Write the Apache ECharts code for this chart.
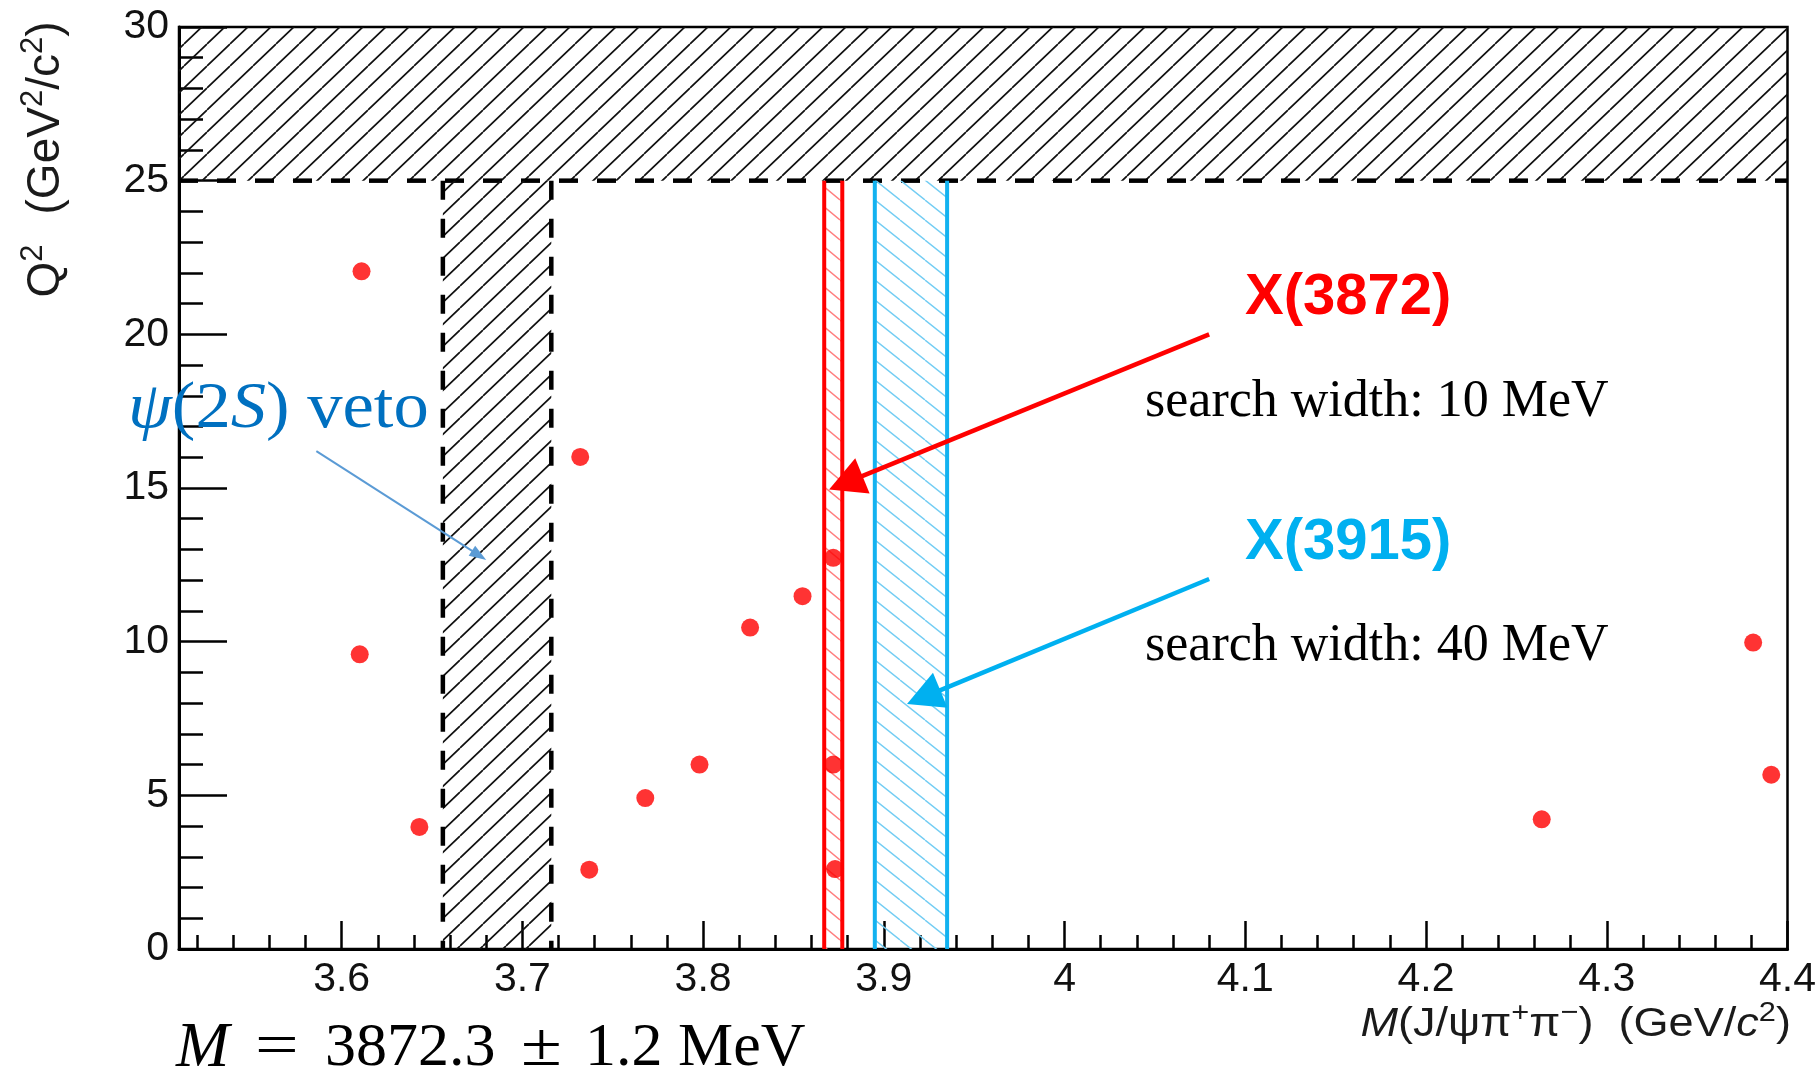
<!DOCTYPE html>
<html>
<head>
<meta charset="utf-8">
<script src="https://cdn.jsdelivr.net/npm/echarts@6/dist/echarts.min.js"></script>
<style>
  html, body { margin: 0; padding: 0; background: #ffffff; }
  #main { width: 1819px; height: 1076px; }
</style>
</head>
<body>
<div id="main"></div>
<script>
// Candidate events: invariant mass M(J/psi pi+ pi-) [GeV/c^2] and Q^2 [GeV^2/c^2]
const massValues = [3.611, 3.610, 3.643, 3.732, 3.737, 3.768, 3.798, 3.826, 3.855, 3.872, 3.872, 3.873, 4.264, 4.381, 4.391];
const q2Values   = [22.05, 9.59, 3.97, 16.01, 2.58, 4.91, 6.00, 10.46, 11.48, 12.73, 6.00, 2.60, 4.22, 9.97, 5.67];

// Axis ranges and ticks
const massRange = [3.51, 4.4];
const q2Range = [0, 30];
const massTicks = [3.6, 3.7, 3.8, 3.9, 4.0, 4.1, 4.2, 4.3, 4.4];
const massTickLabels = ['3.6', '3.7', '3.8', '3.9', '4', '4.1', '4.2', '4.3', '4.4'];
const massMinorTicks = [3.52, 3.54, 3.56, 3.58, 3.62, 3.64, 3.66, 3.68, 3.72, 3.74, 3.76, 3.78,
  3.82, 3.84, 3.86, 3.88, 3.92, 3.94, 3.96, 3.98, 4.02, 4.04, 4.06, 4.08, 4.12, 4.14, 4.16, 4.18,
  4.22, 4.24, 4.26, 4.28, 4.32, 4.34, 4.36, 4.38];

// Selection regions
const q2Cut = 25;                    // events above this Q^2 are excluded
const psi2sVeto = [3.656, 3.716];    // psi(2S) mass veto window
const x3872Window = [3.867, 3.877];  // 10 MeV search window
const x3915Window = [3.895, 3.935];  // 40 MeV search window

// Annotation arrows: [start, tip] in (mass, Q^2)
const x3872Arrow = [[4.080, 20.00], [3.8697, 14.95]];
const x3915Arrow = [[4.080, 12.04], [3.9128, 7.97]];
const vetoArrow  = [[3.586, 16.20], [3.6800, 12.66]];

const SANS = "'Liberation Sans', Arial, Helvetica, sans-serif";
const SERIF = "'Liberation Serif', 'Times New Roman', serif";

// Diagonal hatch tile; dir > 0 rises to the right, dir < 0 falls to the right
function hatchTile(w, h, color, lw, dir) {
  const c = document.createElement('canvas');
  c.width = w; c.height = h;
  const ctx = c.getContext('2d');
  ctx.strokeStyle = color;
  ctx.lineWidth = lw;
  ctx.beginPath();
  for (let k = -1; k <= 1; k++) {
    if (dir > 0) { ctx.moveTo(k * w, h); ctx.lineTo(k * w + w, 0); }
    else { ctx.moveTo(k * w, 0); ctx.lineTo(k * w + w, h); }
  }
  ctx.stroke();
  return { image: c, repeat: 'repeat' };
}

const blackHatch = hatchTile(23, 22, '#111111', 1.7, 1);
const redHatch = hatchTile(24, 20, '#ff7f7f', 1.4, -1);
const cyanHatch = hatchTile(25, 20, '#74cdf3', 1.4, -1);

// Filled band with selected edges stroked
function bandSeries(name, x, y, fill, edgeStyle, edges, z) {
  return {
    type: 'custom',
    name: name,
    z: z,
    silent: true,
    data: [[x[0], x[1], y[0], y[1]]],
    renderItem: function (params, api) {
      const a = api.coord([api.value(0), api.value(3)]);
      const b = api.coord([api.value(1), api.value(2)]);
      const children = [{
        type: 'rect',
        shape: { x: a[0], y: a[1], width: b[0] - a[0], height: b[1] - a[1] },
        style: { fill: fill }
      }];
      const seg = {
        left: [a[0], a[1], a[0], b[1]],
        right: [b[0], a[1], b[0], b[1]],
        bottom: [a[0], b[1], b[0], b[1]]
      };
      edges.forEach(function (e) {
        const s = seg[e];
        children.push({
          type: 'line',
          shape: { x1: s[0], y1: s[1], x2: s[2], y2: s[3] },
          style: Object.assign({ fill: null }, edgeStyle)
        });
      });
      return { type: 'group', children: children };
    }
  };
}

const dashed = { stroke: '#000000', lineWidth: 4.5, lineDash: [19, 19], lineCap: 'butt' };

const arrowStyles = [
  { color: '#ff0000', width: 4.5, head: 36, half: 19 },
  { color: '#00b0f0', width: 4.5, head: 36, half: 19 },
  { color: '#5b9bd5', width: 2, head: 17, half: 6 }
];

function renderArrow(params, api) {
  const s = api.coord([api.value(0), api.value(1)]);
  const t = api.coord([api.value(2), api.value(3)]);
  const st = arrowStyles[params.dataIndex];
  const dx = t[0] - s[0], dy = t[1] - s[1];
  const len = Math.hypot(dx, dy);
  const ux = dx / len, uy = dy / len;
  const bx = t[0] - ux * st.head, by = t[1] - uy * st.head;
  const px = -uy * st.half, py = ux * st.half;
  return {
    type: 'group',
    children: [
      { type: 'line', shape: { x1: s[0], y1: s[1], x2: bx + ux * 3, y2: by + uy * 3 },
        style: { stroke: st.color, lineWidth: st.width, fill: null } },
      { type: 'polygon', shape: { points: [[t[0], t[1]], [bx + px, by + py], [bx - px, by - py]] },
        style: { fill: st.color } }
    ]
  };
}

const tickLine = { color: '#000000', width: 2.5 };

function plainText(x, y, text, font, fill, align, scaleX) {
  return {
    type: 'text', x: x, y: y, z: 20, silent: true, scaleX: scaleX || 1,
    style: { text: text, font: font, fill: fill, align: align || 'left', verticalAlign: 'middle' }
  };
}

const supRich = function (size, family) {
  return {
    n: { fontSize: size, fontFamily: family, lineHeight: size + 10, fill: '#1a1a1a' },
    i: { fontSize: size, fontFamily: family, fontStyle: 'italic', lineHeight: size + 10, fill: '#1a1a1a' },
    s: { fontSize: Math.round(size * 0.68), fontFamily: family, lineHeight: Math.round(size * 0.68), verticalAlign: 'top', fill: '#1a1a1a' }
  };
};

const formulaFont = '62px ' + SERIF;
const formulaItalic = 'italic 64px ' + SERIF;

const option = {
  animation: false,
  backgroundColor: '#ffffff',
  grid: {
    left: 179, right: 30, top: 27, bottom: 127,
    show: true, borderColor: '#000000', borderWidth: 2.5, backgroundColor: 'transparent'
  },
  xAxis: [
    {
      type: 'value', min: massRange[0], max: massRange[1], position: 'bottom',
      axisLine: { show: true, onZero: false, lineStyle: { color: '#000000', width: 3 } },
      axisTick: { show: true, inside: true, length: 28, customValues: massTicks, lineStyle: tickLine },
      axisLabel: {
        show: true, customValues: massTicks, margin: 10, fontSize: 41, fontFamily: SANS, color: '#111111',
        formatter: function (v) {
          let best = 0;
          massTicks.forEach(function (t, i) { if (Math.abs(t - v) < Math.abs(massTicks[best] - v)) best = i; });
          return massTickLabels[best];
        }
      },
      splitLine: { show: false }
    },
    {
      type: 'value', min: massRange[0], max: massRange[1], position: 'bottom',
      axisLine: { show: false, onZero: false },
      axisTick: { show: true, inside: true, length: 14, customValues: massMinorTicks, lineStyle: tickLine },
      axisLabel: { show: false },
      splitLine: { show: false }
    }
  ],
  yAxis: {
    type: 'value', min: q2Range[0], max: q2Range[1], interval: 5,
    axisLine: { show: true, onZero: false, lineStyle: { color: '#000000', width: 3 } },
    axisTick: { show: true, inside: true, length: 48, lineStyle: tickLine },
    minorTick: { show: true, splitNumber: 5, length: 24, lineStyle: tickLine },
    axisLabel: { margin: 10, fontSize: 41, fontFamily: SANS, color: '#111111' },
    splitLine: { show: false },
    minorSplitLine: { show: false }
  },
  series: [
    bandSeries('excluded Q2', massRange, [q2Cut, q2Range[1]], blackHatch, dashed, ['bottom'], 1),
    bandSeries('psi(2S) veto', psi2sVeto, [q2Range[0], q2Cut], blackHatch, dashed, ['left', 'right'], 1),
    bandSeries('X(3872) window', x3872Window, [q2Range[0], q2Cut], redHatch,
      { stroke: '#ff0000', lineWidth: 4 }, ['left', 'right'], 2),
    bandSeries('X(3915) window', x3915Window, [q2Range[0], q2Cut], cyanHatch,
      { stroke: '#12b2f0', lineWidth: 4 }, ['left', 'right'], 2),
    {
      type: 'scatter', name: 'events', z: 5,
      symbol: 'circle', symbolSize: 18,
      itemStyle: { color: '#ff0000' },
      data: massValues.map(function (m, i) { return [m, q2Values[i]]; })
    },
    {
      type: 'custom', name: 'arrows', z: 6, silent: true,
      data: [
        [x3872Arrow[0][0], x3872Arrow[0][1], x3872Arrow[1][0], x3872Arrow[1][1]],
        [x3915Arrow[0][0], x3915Arrow[0][1], x3915Arrow[1][0], x3915Arrow[1][1]],
        [vetoArrow[0][0], vetoArrow[0][1], vetoArrow[1][0], vetoArrow[1][1]]
      ],
      renderItem: renderArrow
    }
  ],
  graphic: [
    plainText(1245, 298, 'X(3872)', 'bold 58px ' + SANS, '#ff0000'),
    plainText(1145, 402, 'search width: 10 MeV', '52px ' + SERIF, '#000000'),
    plainText(1245, 543, 'X(3915)', 'bold 58px ' + SANS, '#00b0f0'),
    plainText(1145, 646, 'search width: 40 MeV', '52px ' + SERIF, '#000000'),
    {
      type: 'text', x: 128, y: 410, z: 20, silent: true, scaleX: 1.07,
      style: {
        text: '{i|\u03c8}{n|(2}{i|S}{n|) veto}',
        verticalAlign: 'middle',
        rich: {
          n: { fontSize: 66, fontFamily: SERIF, fill: '#0070c0' },
          i: { fontSize: 66, fontFamily: SERIF, fontStyle: 'italic', fill: '#0070c0' }
        }
      }
    },
    // mass measurement
    plainText(176, 1049, 'M', formulaItalic, '#000000'),
    plainText(255, 1049, '=', formulaFont, '#000000', 'left', 1.25),
    plainText(325, 1049, '3872.3', formulaFont, '#000000'),
    plainText(521, 1049, '\u00b1', formulaFont, '#000000', 'left', 1.2),
    plainText(585, 1049, '1.2', formulaFont, '#000000'),
    plainText(678, 1049, 'MeV', formulaFont, '#000000'),
    // x axis title
    {
      type: 'text', x: 1791, y: 1025, z: 20, silent: true, scaleX: 1.1,
      style: {
        text: '{i|M}{n|(J/\u03c8\u03c0}{s|+}{n|\u03c0}{s|\u2212}{n|)  (GeV/}{i|c}{s|2}{n|)}',
        align: 'right', verticalAlign: 'middle',
        rich: supRich(41, SANS)
      }
    },
    // y axis title
    {
      type: 'text', x: 46, y: 271, rotation: Math.PI / 2, z: 20, silent: true,
      style: {
        text: '{n|Q}{s|2}',
        align: 'center', verticalAlign: 'middle',
        rich: supRich(46, SANS)
      }
    },
    {
      type: 'text', x: 46, y: 118, rotation: Math.PI / 2, z: 20, silent: true,
      style: {
        text: '{n|(GeV}{s|2}{n|/c}{s|2}{n|)}',
        align: 'center', verticalAlign: 'middle',
        rich: supRich(46, SANS)
      }
    }
  ]
};

const chart = echarts.init(document.getElementById('main'), null, { renderer: 'canvas' });
chart.setOption(option);
</script>
</body>
</html>
